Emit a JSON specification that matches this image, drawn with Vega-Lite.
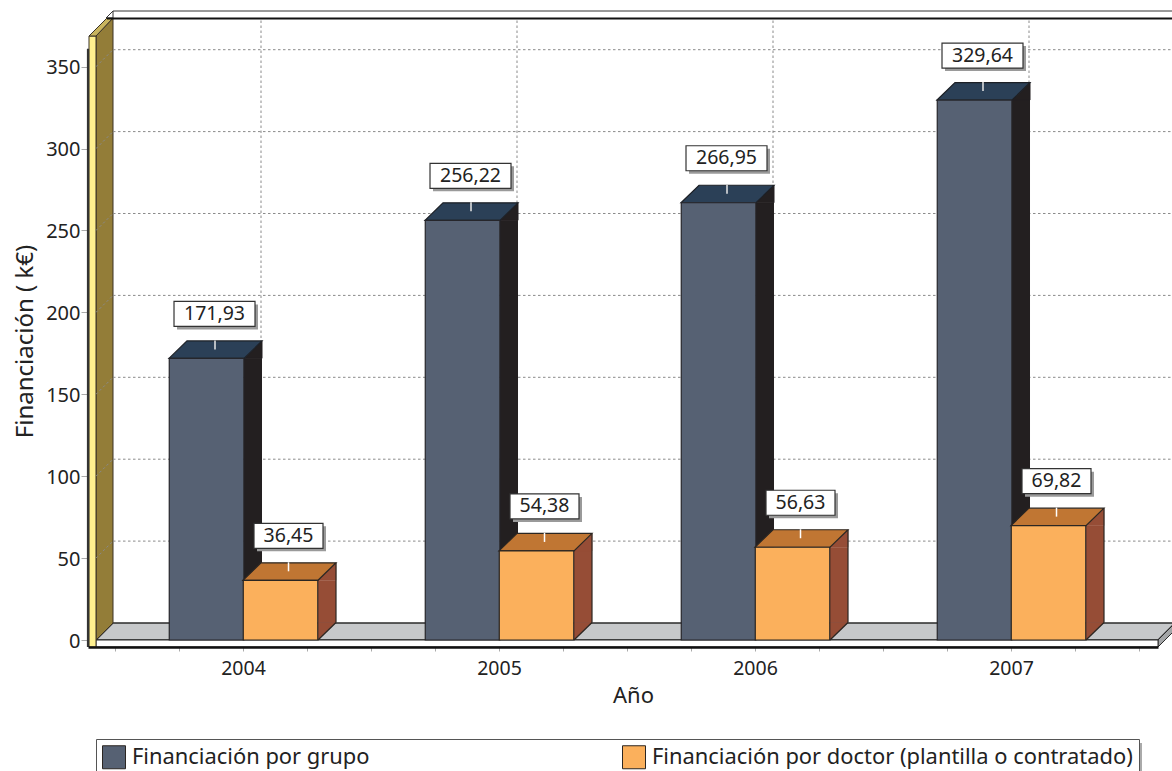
{"$schema":"https://vega.github.io/schema/vega-lite/v6.json","width":1070,"height":611,"autosize":{"type":"none"},"padding":{"left":88,"top":36,"right":14,"bottom":124},"background":"white","config":{"view":{"stroke":null},"font":"Noto Sans","text":{"font":"Noto Sans"}},"datasets":{"barras":[{"anio":2004,"serie":"Financiación por grupo","valor":171.93,"etiqueta":"171,93"},{"anio":2005,"serie":"Financiación por grupo","valor":256.22,"etiqueta":"256,22"},{"anio":2006,"serie":"Financiación por grupo","valor":266.95,"etiqueta":"266,95"},{"anio":2007,"serie":"Financiación por grupo","valor":329.64,"etiqueta":"329,64"}],"doctor":[{"anio":2004,"serie":"Financiación por doctor (plantilla o contratado)","valor":36.45,"etiqueta":"36,45"},{"anio":2005,"serie":"Financiación por doctor (plantilla o contratado)","valor":54.38,"etiqueta":"54,38"},{"anio":2006,"serie":"Financiación por doctor (plantilla o contratado)","valor":56.63,"etiqueta":"56,63"},{"anio":2007,"serie":"Financiación por doctor (plantilla o contratado)","valor":69.82,"etiqueta":"69,82"}],"marco":[{"anio":2003.3945,"fin":2007.5742,"valor":0}],"marcas":[{"anio":2003.3945,"fin":2007.5742,"valor":50},{"anio":2003.3945,"fin":2007.5742,"valor":100},{"anio":2003.3945,"fin":2007.5742,"valor":150},{"anio":2003.3945,"fin":2007.5742,"valor":200},{"anio":2003.3945,"fin":2007.5742,"valor":250},{"anio":2003.3945,"fin":2007.5742,"valor":300},{"anio":2003.3945,"fin":2007.5742,"valor":350}]},"encoding":{"x":{"field":"anio","type":"quantitative","scale":{"domain":[2003.3945,2007.5742],"nice":false,"zero":false,"padding":0},"axis":{"values":[2003.5,2003.75,2004,2004.25,2004.5,2004.75,2005,2005.25,2005.5,2005.75,2006,2006.25,2006.5,2006.75,2007,2007.25,2007.5],"labelExpr":"datum.value % 1 === 0 ? format(datum.value,'d') : ''","title":"Año","titleFont":"Noto Sans","titleFontSize":22,"titleFontWeight":"normal","titleColor":"#222","titleX":545,"titleY":48,"titleBaseline":"middle","labelFont":"Noto Sans","labelFontSize":19.5,"labelColor":"#222","labelPadding":8,"labelOverlap":false,"labelFlush":false,"tickColor":"#aaa","tickSize":4,"grid":false,"domainColor":"#111","domainWidth":2.5,"zindex":1}},"y":{"field":"valor","type":"quantitative","scale":{"domain":[-4.27,368.74],"nice":false,"zero":false},"axis":{"values":[0,50,100,150,200,250,300,350],"title":"Financiación ( k€)","titleFont":"Noto Sans","titleFontSize":24,"titleFontWeight":"normal","titleColor":"#222","titleX":-63,"titleY":305,"titleBaseline":"middle","labelFont":"Noto Sans","labelFontSize":20,"labelColor":"#222","labelPadding":1,"labelOffset":1,"tickColor":"#aaa","tickSize":7,"grid":false,"domain":false}}},"layer":[
{"data":{"name":"marco"},"mark":{"type":"point","size":4,"filled":true,"opacity":1,"fill":"#c6c8ca","stroke":"#2b2b2b","strokeWidth":1.3,"shape":"M8 0 L25 -17 H1087 L1070 0 Z"}},
{"data":{"name":"marco"},"mark":{"type":"point","size":4,"filled":true,"opacity":1,"fill":"#a3a5a7","stroke":"#2b2b2b","strokeWidth":1,"shape":"M1070 0 L1087 -17 V-10 L1070 7 Z"}},
{"data":{"name":"marco"},"mark":{"type":"point","size":4,"filled":true,"opacity":1,"fill":"#ffffff","stroke":"#2b2b2b","strokeWidth":1,"shape":"M8 0 H1070 V7 H8 Z"}},
{"data":{"name":"marco"},"mark":{"type":"point","size":4,"filled":true,"opacity":1,"fill":"#937d38","stroke":"#3a3226","strokeWidth":1,"shape":"M8 0 L25 -17 V-622 L8 -604 Z"}},
{"data":{"name":"marco"},"mark":{"type":"point","size":4,"filled":true,"opacity":1,"fill":"#fff08f","stroke":"#3a3226","strokeWidth":1,"shape":"M1 7 V-604 H8 V7 Z"}},
{"data":{"name":"marco"},"mark":{"type":"point","size":4,"filled":true,"opacity":1,"fill":"#c8b45e","stroke":"#3a3226","strokeWidth":1,"shape":"M1 -604 L19 -622 H25 L8 -604 Z"}},
{"data":{"name":"marco"},"mark":{"type":"point","size":4,"filled":false,"opacity":1,"stroke":"#333","strokeWidth":1,"shape":"M18 -622 L25 -629 H1100 M25 -629 V-622"}},
{"data":{"name":"marco"},"mark":{"type":"point","size":4,"filled":false,"opacity":1,"stroke":"#111","strokeWidth":2.2,"shape":"M19 -621.5 H1100"}},
{"data":{"name":"marco"},"mark":{"type":"rule","stroke":"#333","strokeWidth":2.2},"encoding":{"y":{"datum":361},"y2":{"datum":-4.27}}},
{"data":{"name":"marcas"},"mark":{"type":"rule","stroke":"#8a8a8a","strokeWidth":1,"strokeDash":[2.5,2.5],"xOffset":25,"x2Offset":25,"yOffset":-17},"encoding":{"x2":{"field":"fin"}}},
{"data":{"name":"marcas"},"mark":{"type":"point","size":4,"filled":false,"opacity":1,"stroke":"#8a8a8a","strokeWidth":1,"strokeDash":[2.5,2.5],"shape":"M8 0 L25 -17"}},
{"data":{"name":"barras"},"mark":{"type":"rule","stroke":"#8a8a8a","strokeWidth":1,"strokeDash":[2.5,2.5],"xOffset":18,"yOffset":-17,"y2Offset":-17},"encoding":{"y":{"datum":0},"y2":{"datum":368.74}}},
{"data":{"name":"barras"},"mark":{"type":"bar","width":18,"xOffset":10,"fill":"#231f20","y2Offset":-17.5},"encoding":{"y2":{"datum":0}}},
{"data":{"name":"barras"},"mark":{"type":"point","size":4,"filled":true,"opacity":1,"fill":"#231f20","stroke":"#231f20","strokeWidth":1,"xOffset":-74,"shape":"M75 0 L93 -17.5 V0 Z"}},
{"data":{"name":"barras"},"mark":{"type":"point","size":4,"filled":true,"opacity":1,"fill":"#2b4057","stroke":"#1d2026","strokeWidth":1.2,"xOffset":-74,"shape":"M0 0 L18 -17.5 H93 L75 0 Z"}},
{"data":{"name":"barras"},"mark":{"type":"bar","width":74.5,"xOffset":-36.5,"stroke":"#26262b","strokeWidth":1.2},"encoding":{"y2":{"datum":0},"color":{"field":"serie","type":"nominal","scale":{"domain":["Financiación por grupo","Financiación por doctor (plantilla o contratado)"],"range":["#566173","#fbb05c"]},"legend":{"orient":"none","legendX":8,"legendY":703,"direction":"horizontal","columns":2,"title":null,"symbolType":"square","symbolSize":529,"symbolStrokeColor":"#333","symbolStrokeWidth":1,"symbolOpacity":1,"labelFont":"Noto Sans","labelFontSize":21.9,"labelColor":"#222","labelLimit":600,"labelOffset":6,"columnPadding":250,"padding":6,"strokeColor":"#555","fillColor":"#ffffff"}}}},
{"data":{"name":"doctor"},"mark":{"type":"point","size":4,"filled":true,"opacity":1,"fill":"#964d36","stroke":"#964d36","strokeWidth":0.5,"shape":"M75 0 V-17.5 H93 Z"},"encoding":{"y":{"datum":0}}},
{"data":{"name":"doctor"},"mark":{"type":"bar","width":18,"xOffset":84,"fill":"#964d36","y2Offset":-17.5},"encoding":{"y2":{"datum":0}}},
{"data":{"name":"doctor"},"mark":{"type":"point","size":4,"filled":true,"opacity":1,"fill":"#964d36","stroke":"#964d36","strokeWidth":0.5,"shape":"M75 0 L93 -17.5 V0 Z"}},
{"data":{"name":"doctor"},"mark":{"type":"point","size":4,"filled":false,"opacity":1,"stroke":"#2b2622","strokeWidth":1.2,"shape":"M75 0 L93 -17.5"},"encoding":{"y":{"datum":0}}},
{"data":{"name":"doctor"},"mark":{"type":"rule","stroke":"#2b2622","strokeWidth":1.2,"xOffset":93,"yOffset":-17.5,"y2Offset":-17.5},"encoding":{"y2":{"datum":0}}},
{"data":{"name":"doctor"},"mark":{"type":"point","size":4,"filled":true,"opacity":1,"fill":"#c07633","stroke":"#2b2622","strokeWidth":1.2,"shape":"M0 0 L18 -17.5 H93 L75 0 Z"}},
{"data":{"name":"doctor"},"mark":{"type":"bar","width":74.5,"xOffset":37.5,"stroke":"#2b2622","strokeWidth":1.2},"encoding":{"y2":{"datum":0},"color":{"field":"serie","type":"nominal"}}},
{"data":{"name":"barras"},"mark":{"type":"point","size":4,"filled":false,"opacity":1,"stroke":"#e8e8e8","strokeWidth":1.5,"xOffset":-74,"shape":"M46 -18 V-9"}},
{"data":{"name":"doctor"},"mark":{"type":"point","size":4,"filled":false,"opacity":1,"stroke":"#ffffff","strokeWidth":1.5,"shape":"M45.5 -18 V-9"}},
{"data":{"name":"barras"},"mark":{"type":"point","size":4,"filled":true,"opacity":1,"fill":"#9a9a9a","strokeWidth":0,"xOffset":-74,"shape":"M8 -54 H89 V-29 H8 Z"}},
{"data":{"name":"barras"},"mark":{"type":"point","size":4,"filled":true,"opacity":1,"fill":"#ffffff","stroke":"#333","strokeWidth":1.2,"xOffset":-74,"shape":"M5 -57 H86 V-32 H5 Z"}},
{"data":{"name":"barras"},"mark":{"type":"text","font":"Noto Sans","fontSize":19.5,"color":"#222","xOffset":-28.5,"yOffset":-44.5,"baseline":"middle","align":"center"},"encoding":{"text":{"field":"etiqueta","type":"nominal"}}},
{"data":{"name":"doctor"},"mark":{"type":"point","size":4,"filled":true,"opacity":1,"fill":"#9a9a9a","strokeWidth":0,"shape":"M14 -54 H83 V-29 H14 Z"}},
{"data":{"name":"doctor"},"mark":{"type":"point","size":4,"filled":true,"opacity":1,"fill":"#ffffff","stroke":"#333","strokeWidth":1.2,"shape":"M11 -57 H80 V-32 H11 Z"}},
{"data":{"name":"doctor"},"mark":{"type":"text","font":"Noto Sans","fontSize":19.5,"color":"#222","xOffset":45.5,"yOffset":-44.5,"baseline":"middle","align":"center"},"encoding":{"text":{"field":"etiqueta","type":"nominal"}}},
{"data":{"name":"marco"},"mark":{"type":"point","size":4,"filled":true,"opacity":1,"fill":"#aaaaaa","strokeWidth":0,"shape":"M1050 103 H1054 V140 H1050 Z"}}
]}
